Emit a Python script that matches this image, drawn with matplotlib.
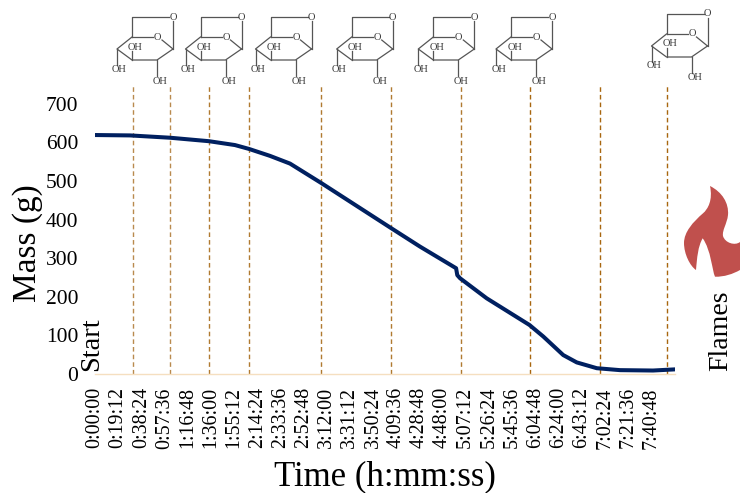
import matplotlib
matplotlib.use("Agg")
import matplotlib.pyplot as plt
from matplotlib.patches import PathPatch
from matplotlib.path import Path

plt.rcParams['font.family'] = ['Liberation Serif', 'DejaVu Serif']

# minutes since start, mass in grams
time_min = [0, 29, 45.6, 62.2, 94.5, 116, 127.6, 145, 161.6, 187.3, 245.3, 269.3, 299.2, 300.2,
            302.5, 324.6, 360, 371.5, 388, 399.2, 415.8, 435, 462.4, 480.6]
mass_g = [619, 618, 615, 612, 603, 593, 583, 565, 545, 495, 378, 330, 274, 256,
          248, 196, 127, 97, 49, 30, 15, 10, 9, 12]

event_min = [31.5, 62.2, 94.5, 127.6, 187.3, 245.3, 303.3, 360.5, 418.5, 474]
event_colors = ['#b98a4e', '#b98a4e', '#b07a30', '#b07a30', '#b07a30', '#b07a30',
                '#b07a30', '#a8660f', '#a8660f', '#a8660f']

tick_labels = ['0:00:00', '0:19:12', '0:38:24', '0:57:36', '1:16:48', '1:36:00', '1:55:12',
               '2:14:24', '2:33:36', '2:52:48', '3:12:00', '3:31:12', '3:50:24', '4:09:36',
               '4:28:48', '4:48:00', '5:07:12', '5:26:24', '5:45:36', '6:04:48', '6:24:00',
               '6:43:12', '7:02:24', '7:21:36', '7:40:48']
mass_ticks = [0, 100, 200, 300, 400, 500, 600, 700]

# where each sugar drawing sits on the canvas (left x, top y in pixels)
molecule_pos = [(117, 17), (185.5, 17), (255.5, 17), (336.7, 17), (418.3, 17), (496, 17), (651.5, 14)]


def draw_molecule(ax, x0, y0):
    segs = [
        [(15, 20), (15, 0), (52, 0)],
        [(56, 4), (56, 32)],
        [(15, 20), (36, 20)],
        [(45, 23), (56, 32)],
        [(15, 20), (0, 32), (15, 43), (40, 43), (56, 32)],
        [(15, 43), (15, 34)],
        [(0, 32), (0, 48)],
        [(40, 43), (40, 59)],
    ]
    for seg in segs:
        ax.plot([x0 + p[0] for p in seg], [y0 + p[1] for p in seg], color='#555555', lw=0.9)
    labels = [(56, 0, 'O'), (40.5, 20, 'O'), (18.5, 30, 'OH'), (2.5, 52, 'OH'), (43, 64, 'OH')]
    for dx, dy, s in labels:
        ax.text(x0 + dx, y0 + dy, s, fontsize=7.5, ha='center', va='center', color='#333333')


fig = plt.figure(figsize=(7.4, 4.93), dpi=100)
ax = fig.add_axes([95 / 740, (493 - 374) / 493, 580 / 740, 288 / 493])

ax.vlines(event_min, 0, 746, colors=event_colors, linestyles=(0, (3.3, 2.2)), lw=1.0, zorder=1)
ax.plot(time_min, mass_g, color='#002060', lw=2.9, zorder=3)

ax.set_xlim(0, 480.6)
ax.set_ylim(0, 746)
ax.set_xticks([i * 19.2 for i in range(len(tick_labels))])
ax.set_xticklabels(tick_labels, rotation=90, fontsize=14.4)
ax.set_yticks(mass_ticks)
ax.tick_params(axis='x', length=0, labelsize=14.4, pad=9.5)
ax.tick_params(axis='y', length=0, labelsize=15.5, pad=12)
for side in ['top', 'right', 'left']:
    ax.spines[side].set_visible(False)
ax.spines['bottom'].set_color('#f5dfc0')
ax.spines['bottom'].set_linewidth(1.0)

# overlay in pixel units for the drawings and free labels
over = fig.add_axes([0, 0, 1, 1])
over.set_xlim(0, 740)
over.set_ylim(493, 0)
over.axis('off')
over.patch.set_alpha(0)

for x0, y0 in molecule_pos:
    draw_molecule(over, x0, y0)

flame_verts = [(710, 186),
               (722, 192), (729, 203), (728, 215),
               (727, 224), (722, 230), (723, 236),
               (725, 243), (735, 246), (740, 242),
               (740, 270),
               (733, 274), (724, 277), (715, 276.7),
               (712, 270), (711, 250), (702.7, 238.3),
               (698, 246), (697, 258), (696, 270),
               (690, 266), (684, 254), (684, 243),
               (684, 232), (693, 222), (703, 213.3),
               (708, 209), (713, 200), (710, 186)]
flame_codes = [Path.MOVETO] + [Path.CURVE4] * 9 + [Path.LINETO] + [Path.CURVE4] * 18
over.add_patch(PathPatch(Path(flame_verts, flame_codes), facecolor='#c0504d', edgecolor='none'))

over.text(28, 243, 'Mass (g)', rotation=90, fontsize=24, ha='center', va='center')
over.text(385, 477, 'Time (h:mm:ss)', fontsize=25, ha='center', va='center')
over.text(92, 344, 'Start', rotation=90, fontsize=20.5, ha='center', va='center')
over.text(721, 331, 'Flames', rotation=90, fontsize=20, ha='center', va='center')

fig.savefig('out.png', dpi=100)
